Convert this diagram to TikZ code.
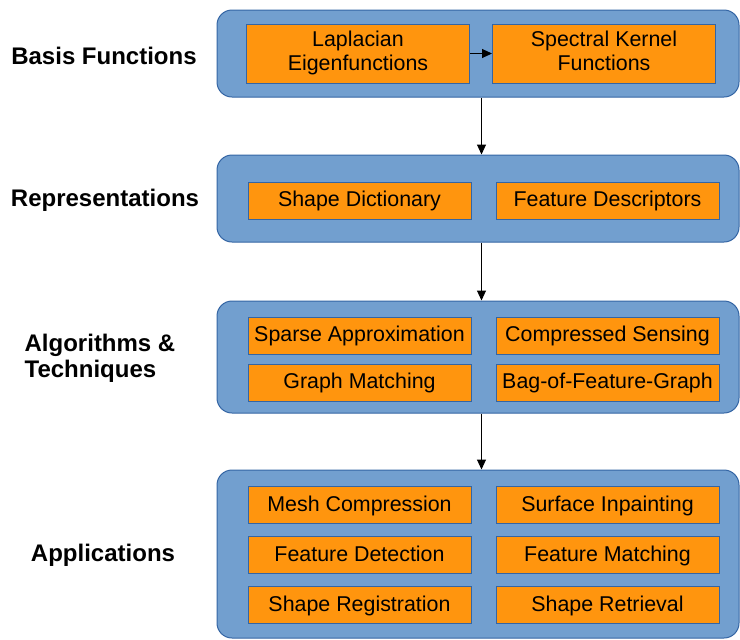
\documentclass[tikz,border=0pt]{standalone}
\usepackage{fontspec}
\setmainfont{Liberation Sans}
\usepackage{tikz}
\usetikzlibrary{arrows.meta, positioning, calc}
\usepackage{xcolor}
\definecolor{LayerFill}{HTML}{729FCF}
\definecolor{LayerEdge}{HTML}{3465A4}
\definecolor{ItemFill}{HTML}{FF950E}

\begin{document}
\begin{tikzpicture}[
    x=0.5pt, y=-0.5pt,
    font=\fontsize{10.7}{12}\selectfont,
    >={Triangle[length=5pt,width=4.5pt]},
    line/.style={draw, line width=0.5pt, ->},
    layer/.style={
        rectangle, rounded corners=7.5pt,
        draw=LayerEdge, fill=LayerFill, line width=0.5pt,
        minimum width=261pt, inner sep=0pt
    },
    item/.style={
        rectangle, draw=LayerEdge, fill=ItemFill, line width=0.5pt,
        minimum width=111.5pt, minimum height=18.5pt,
        text height=1.6ex, text depth=0.4ex,
        inner sep=0pt, align=center
    },
    tall/.style={minimum height=29.5pt, text height=, text depth=},
    tier/.style={font=\fontsize{12}{13}\selectfont\bfseries, align=left}
]
    \useasboundingbox (0,0) rectangle (740,639);

    % Layers
    \node[layer, minimum height=43.5pt] (basis) at (478,53.5) {};
    \node[layer, minimum height=43.5pt] (repr) at (478,198.5) {};
    \node[layer, minimum height=56pt] (algo) at (478,357) {};
    \node[layer, minimum height=84pt] (apps) at (478,554) {};

    % Layer titles
    \node[tier] (tbasis) at (104,56) {Basis Functions};
    \node[tier] (trepr) at (105,200) {Representations};
    \node[tier] (talgo) at (100,358) {Algorithms \&\\Techniques};
    \node[tier] (tapps) at (103,555) {Applications};

    % Boxes
    \node[item, tall] (lapl) at (358,53.5) {\strut Laplacian\\\strut Eigenfunctions};
    \node[item, tall] (kern) [right=11pt of lapl] {\strut Spectral Kernel\\\strut Functions};

    \node[item] (dict) at (359.5,200.5) {Shape Dictionary};
    \node[item] (desc) [right=12pt of dict] {Feature Descriptors};

    \node[item] (sparse) at (359.5,335.5) {Sparse Approximation};
    \node[item] (sensing) [right=12pt of sparse] {Compressed Sensing};
    \node[item] (gmatch) [below=4.5pt of sparse] {Graph Matching};
    \node[item] (bag) [right=12pt of gmatch] {Bag-of-Feature-Graph};

    \node[item] (mesh) at (359.5,505) {Mesh Compression};
    \node[item] (inpaint) [right=12pt of mesh] {Surface Inpainting};
    \node[item] (fdetect) [below=6pt of mesh] {Feature Detection};
    \node[item] (fmatch) [right=12pt of fdetect] {Feature Matching};
    \node[item] (reg) [below=6pt of fdetect] {Shape Registration};
    \node[item] (retr) [right=12pt of reg] {Shape Retrieval};

    % Arrows
    \path[line] (lapl) -- (kern);
    \path[line] ($(basis.south)+(3.5,0)$) -- ($(repr.north)+(3.5,0)$);
    \path[line] ($(repr.south)+(3.5,0)$) -- ($(algo.north)+(3.5,0)$);
    \path[line] ($(algo.south)+(3.5,0)$) -- ($(apps.north)+(3.5,0)$);

\end{tikzpicture}
\end{document}
